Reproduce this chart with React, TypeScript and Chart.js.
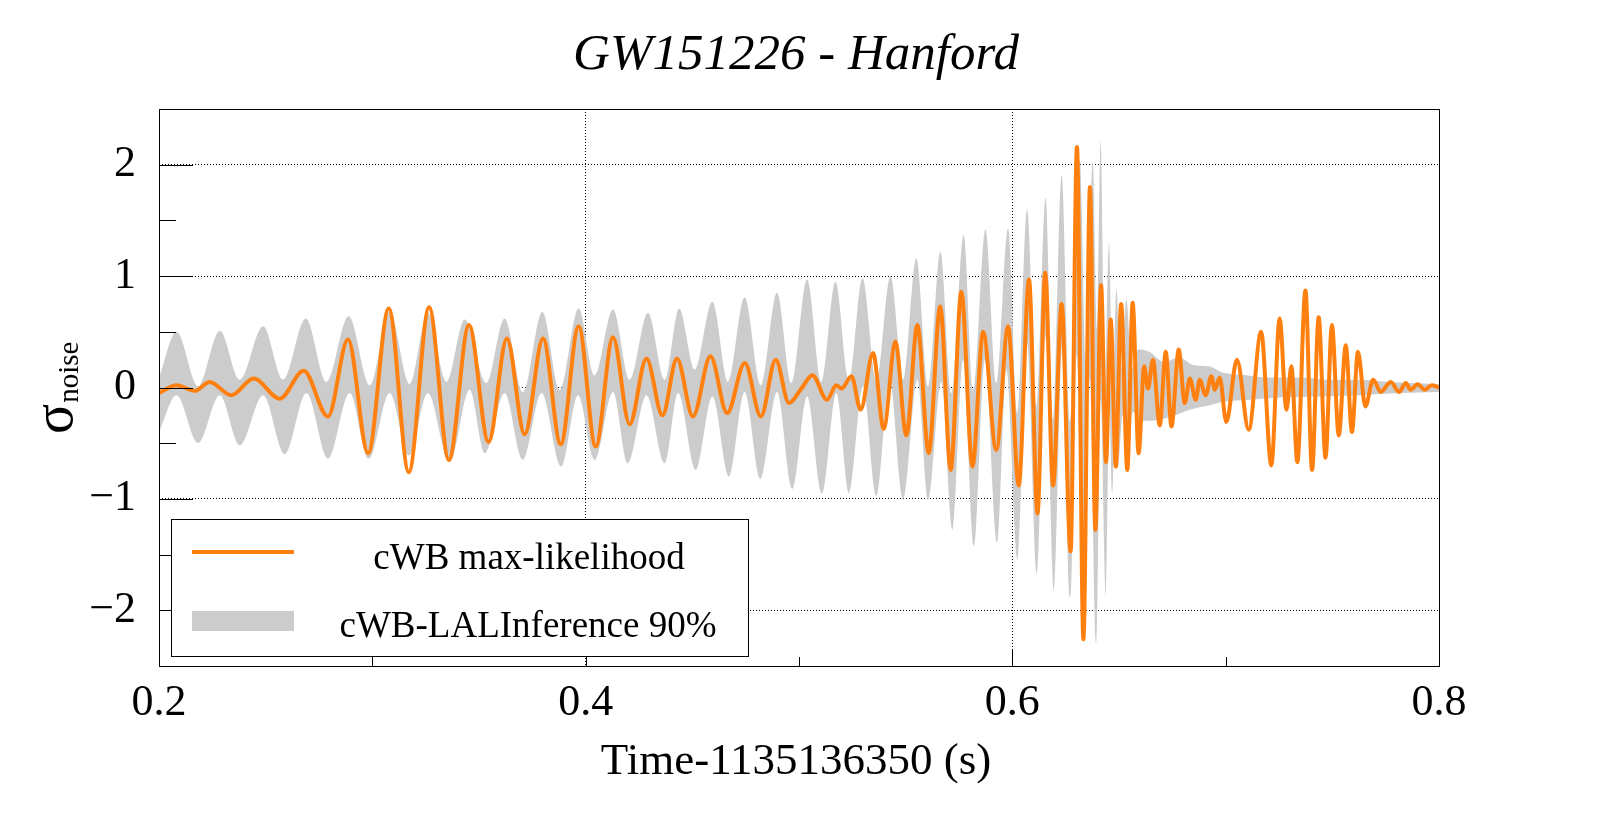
import React, { useEffect, useRef } from "react";
import { Chart, registerables } from "chart.js";

Chart.register(...registerables);

const TITLE = "GW151226 - Hanford";
const X_TITLE = "Time-1135136350 (s)";
const Y_TITLE_MAIN = "σ";
const Y_TITLE_SUB = "noise";
const LEGEND_LABELS = ["cWB max-likelihood", "cWB-LALInference 90%"];

const X_TICKS = [0.2, 0.4, 0.6, 0.8];
const X_MINOR = [0.3, 0.5, 0.7];
const Y_TICKS = [-2, -1, 0, 1, 2];
const Y_MINOR = [-1.5, -0.5, 0.5, 1.5];

// cWB max-likelihood waveform (turning points)
const ML_T = [
  0.2, 0.2082, 0.2167, 0.2238, 0.2339, 0.2444, 0.2566, 0.2678, 0.2792, 0.2886,
  0.298, 0.3077, 0.3171, 0.3266, 0.3359, 0.3453, 0.3545, 0.3631, 0.3714, 0.38,
  0.3883, 0.3967, 0.4047, 0.4128, 0.4206, 0.4285, 0.436, 0.4428, 0.4503, 0.4585,
  0.4663, 0.4746, 0.4821, 0.4891, 0.4953, 0.5011, 0.5063, 0.5131, 0.5175, 0.5199,
  0.5246, 0.5289, 0.5347, 0.5397, 0.5452, 0.5503, 0.5555, 0.5608, 0.5662, 0.5711,
  0.5761, 0.5813, 0.5863, 0.5925, 0.598, 0.603, 0.6078, 0.6118, 0.6154, 0.6191,
  0.6231, 0.6273, 0.6303, 0.6333, 0.6364, 0.6389, 0.6416, 0.6439, 0.6461, 0.6485,
  0.651, 0.6539, 0.6564, 0.6592, 0.6618, 0.6636, 0.6659, 0.6691, 0.6719, 0.6746,
  0.678, 0.6808, 0.6832, 0.686, 0.6878, 0.6906, 0.6933, 0.6949, 0.6972, 0.7003,
  0.7053, 0.7108, 0.7166, 0.7214, 0.7253, 0.7285, 0.7308, 0.7336, 0.7374, 0.7405,
  0.7436, 0.7468, 0.7498, 0.753, 0.7563, 0.7592, 0.762, 0.7655, 0.7691, 0.7727,
  0.7774, 0.7813, 0.7844, 0.7867, 0.79, 0.7933, 0.7966, 0.8,
];
const ML_V = [
  -0.05, 0.02, -0.03, 0.05, -0.07, 0.08, -0.1, 0.15, -0.26, 0.43,
  -0.59, 0.71, -0.76, 0.72, -0.65, 0.56, -0.49, 0.44, -0.42, 0.44,
  -0.51, 0.55, -0.53, 0.45, -0.33, 0.26, -0.25, 0.26, -0.26, 0.28,
  -0.23, 0.22, -0.26, 0.25, -0.14, -0.01, 0.11, -0.11, 0.02, -0.01,
  0.1, -0.2, 0.31, -0.37, 0.41, -0.43, 0.56, -0.59, 0.73, -0.74,
  0.86, -0.71, 0.5, -0.56, 0.55, -0.88, 0.97, -1.13, 1.03, -0.88,
  0.75, -1.47, 2.16, -2.26, 1.8, -1.28, 0.92, -0.67, 0.61, -0.71,
  0.75, -0.74, 0.76, -0.59, 0.19, -0.01, 0.25, -0.34, 0.32, -0.35,
  0.34, -0.14, 0.08, -0.11, 0.07, -0.07, 0.1, -0.02, 0.09, -0.31,
  0.25, -0.38, 0.5, -0.7, 0.62, -0.2, 0.19, -0.67, 0.87, -0.74,
  0.63, -0.63, 0.56, -0.43, 0.38, -0.4, 0.32, -0.17, 0.07, -0.04,
  0.05, -0.04, 0.04, -0.02, 0.03, -0.02, 0.02, 0.0,
];

// cWB-LALInference 90% band: upper edge
const UP_T = [
  0.2, 0.2082, 0.2183, 0.2285, 0.2378, 0.2488, 0.2581, 0.2688, 0.2785, 0.2889,
  0.2988, 0.3081, 0.3175, 0.326, 0.3347, 0.3433, 0.3535, 0.362, 0.3706, 0.3797,
  0.3878, 0.3967, 0.4042, 0.4128, 0.4206, 0.4292, 0.4371, 0.4438, 0.4511, 0.4594,
  0.4667, 0.4745, 0.4821, 0.4897, 0.4964, 0.5038, 0.5105, 0.5171, 0.5234, 0.5297,
  0.5363, 0.5429, 0.5488, 0.555, 0.5605, 0.5663, 0.5714, 0.5772, 0.5816, 0.5874,
  0.5925, 0.598, 0.6024, 0.6069, 0.6113, 0.6156, 0.6191, 0.6231, 0.6272, 0.6316,
  0.6345, 0.6377, 0.6396, 0.6414, 0.6434, 0.6453, 0.647, 0.6488, 0.6508, 0.6535,
  0.656, 0.659, 0.6641, 0.6711, 0.6781, 0.6852, 0.6922, 0.6978, 0.7095, 0.7203,
  0.7344, 0.7484, 0.7625, 0.7766, 0.7859, 0.8,
];
const UP_V = [
  0.09, 0.5, 0.01, 0.51, 0.07, 0.55, 0.07, 0.62, 0.05, 0.64,
  0.02, 0.68, 0.03, 0.67, 0.05, 0.61, 0.04, 0.62, -0.04, 0.68,
  -0.02, 0.71, 0.11, 0.7, 0.07, 0.67, 0.07, 0.71, 0.16, 0.77,
  0.05, 0.81, 0.02, 0.85, 0.04, 0.97, 0.05, 0.95, 0.07, 0.98,
  0.05, 1.0, 0.07, 1.16, 0.01, 1.22, -0.05, 1.37, -0.02, 1.42,
  0.04, 1.43, -0.23, 1.6, -0.17, 1.7, -0.29, 1.91, -0.3, 2.05,
  0.2, 2.03, 0.52, 2.21, -0.02, 1.3, -0.02, 0.88, 0.16, 0.79,
  0.16, 0.34, 0.32, 0.23, 0.27, 0.2, 0.19, 0.14, 0.11, 0.09,
  0.09, 0.07, 0.07, 0.05, 0.04, 0.03,
];

// cWB-LALInference 90% band: lower edge
const LO_T = [
  0.2, 0.2082, 0.2183, 0.2285, 0.2378, 0.2488, 0.2589, 0.2691, 0.2792, 0.2894,
  0.2983, 0.3081, 0.3172, 0.326, 0.3363, 0.3456, 0.3527, 0.362, 0.3706, 0.3793,
  0.3886, 0.3964, 0.4042, 0.4128, 0.4198, 0.4285, 0.4371, 0.4433, 0.4516, 0.4594,
  0.4672, 0.4745, 0.4819, 0.4897, 0.4969, 0.5038, 0.5108, 0.5175, 0.5234, 0.53,
  0.5363, 0.5425, 0.5488, 0.5555, 0.5605, 0.5667, 0.5719, 0.5769, 0.582, 0.5871,
  0.5928, 0.5972, 0.6024, 0.6069, 0.6114, 0.6156, 0.6195, 0.6235, 0.6272, 0.6302,
  0.6331, 0.6363, 0.6394, 0.6414, 0.6438, 0.6455, 0.6469, 0.6482, 0.6495, 0.6517,
  0.6542, 0.6564, 0.6613, 0.6692, 0.6762, 0.6832, 0.6926, 0.6983, 0.7114, 0.7255,
  0.7443, 0.763, 0.7818, 0.8,
];
const LO_V = [
  -0.4, -0.07, -0.5, -0.07, -0.52, -0.07, -0.6, -0.05, -0.64, -0.05,
  -0.64, -0.05, -0.61, -0.05, -0.67, -0.02, -0.59, -0.05, -0.65, -0.05,
  -0.71, -0.07, -0.65, -0.04, -0.68, -0.07, -0.68, -0.05, -0.74, -0.08,
  -0.8, -0.04, -0.82, -0.04, -0.91, -0.08, -0.95, -0.05, -0.95, 0.01,
  -0.97, 0.07, -1.0, 0.07, -1.01, 0.05, -1.28, 0.25, -1.42, 0.25,
  -1.39, 0.16, -1.55, 0.4, -1.67, 0.46, -1.82, 0.4, -1.88, 0.3,
  -2.27, 0.07, -2.29, -0.11, -1.88, -0.2, -0.94, -0.25, -0.71, -0.25,
  -0.52, -0.22, -0.3, -0.29, -0.25, -0.2, -0.16, -0.13, -0.11, -0.09,
  -0.08, -0.07, -0.05, -0.04,
];

const ORANGE = "#ff800e";
const GREY = "#cccccc";
const FONT = "'Liberation Serif', 'Times New Roman', serif";

const toPts = (t: number[], v: number[]) => t.map((x, i) => ({ x, y: v[i] }));

const decorPlugin = {
  id: "decor",
  afterDraw(chart: any) {
    const { ctx, chartArea: a, scales } = chart;
    const xs = scales.x;
    const ys = scales.y;
    ctx.save();
    ctx.setLineDash([]);
    ctx.strokeStyle = "#000";
    ctx.lineWidth = 1;
    // tick marks
    ctx.beginPath();
    Y_TICKS.forEach((v) => {
      const p = Math.round(ys.getPixelForValue(v)) + 0.5;
      ctx.moveTo(a.left, p);
      ctx.lineTo(a.left + 34, p);
    });
    Y_MINOR.forEach((v) => {
      const p = Math.round(ys.getPixelForValue(v)) + 0.5;
      ctx.moveTo(a.left, p);
      ctx.lineTo(a.left + 17, p);
    });
    X_TICKS.forEach((v) => {
      const p = Math.round(xs.getPixelForValue(v)) + 0.5;
      ctx.moveTo(p, a.bottom);
      ctx.lineTo(p, a.bottom - 17);
    });
    X_MINOR.forEach((v) => {
      const p = Math.round(xs.getPixelForValue(v)) + 0.5;
      ctx.moveTo(p, a.bottom);
      ctx.lineTo(p, a.bottom - 9);
    });
    ctx.stroke();
    // frame
    ctx.strokeRect(a.left + 0.5, a.top + 0.5, a.right - a.left, a.bottom - a.top);

    // legend
    const lx = 171, ly = 519, lw = 577, lh = 137;
    ctx.fillStyle = "#fff";
    ctx.fillRect(lx, ly, lw, lh);
    ctx.strokeStyle = "#000";
    ctx.lineWidth = 1;
    ctx.strokeRect(lx + 0.5, ly + 0.5, lw, lh);
    ctx.strokeStyle = ORANGE;
    ctx.lineWidth = 4;
    ctx.beginPath();
    ctx.moveTo(192, 552);
    ctx.lineTo(294, 552);
    ctx.stroke();
    ctx.fillStyle = GREY;
    ctx.fillRect(192, 611, 102, 20);
    ctx.fillStyle = "#000";
    ctx.font = `37px ${FONT}`;
    ctx.textAlign = "center";
    ctx.textBaseline = "middle";
    ctx.fillText(LEGEND_LABELS[0], 529, 559);
    ctx.fillText(LEGEND_LABELS[1], 528, 627);

    // title
    ctx.textBaseline = "alphabetic";
    ctx.font = `italic 51px ${FONT}`;
    ctx.fillText(TITLE, 796, 69);
    // x title
    ctx.font = `45px ${FONT}`;
    ctx.fillText(X_TITLE, 796, 774);
    // y title
    ctx.save();
    ctx.translate(72, 434);
    ctx.rotate(-Math.PI / 2);
    ctx.textAlign = "left";
    ctx.font = `56px ${FONT}`;
    ctx.fillText(Y_TITLE_MAIN, 0, 0);
    const w = ctx.measureText(Y_TITLE_MAIN).width;
    ctx.font = `29px ${FONT}`;
    ctx.fillText(Y_TITLE_SUB, w + 1, 6);
    ctx.restore();
    ctx.restore();
  },
};

export default function App() {
  const ref = useRef<HTMLCanvasElement | null>(null);
  useEffect(() => {
    if (!ref.current) return;
    const chart = new Chart(ref.current, {
      type: "line",
      data: {
        datasets: [
          {
            label: LEGEND_LABELS[0],
            data: toPts(ML_T, ML_V),
            borderColor: ORANGE,
            borderWidth: 4,
            pointRadius: 0,
            cubicInterpolationMode: "monotone",
            fill: false,
            order: 0,
          },
          {
            label: LEGEND_LABELS[1],
            data: toPts(UP_T, UP_V),
            borderColor: "rgba(0,0,0,0)",
            borderWidth: 0,
            backgroundColor: GREY,
            pointRadius: 0,
            cubicInterpolationMode: "monotone",
            fill: "+1",
            order: 1,
          },
          {
            label: "lower",
            data: toPts(LO_T, LO_V),
            borderColor: "rgba(0,0,0,0)",
            borderWidth: 0,
            pointRadius: 0,
            cubicInterpolationMode: "monotone",
            fill: false,
            order: 2,
          },
        ],
      },
      options: {
        responsive: false,
        animation: false,
        devicePixelRatio: 1,
        layout: { padding: { left: 0, right: 160, top: 109, bottom: 0 } },
        plugins: {
          legend: { display: false },
          tooltip: { enabled: false },
          title: { display: false },
        },
        scales: {
          x: {
            type: "linear",
            min: 0.2,
            max: 0.8,
            afterBuildTicks: (s: any) => {
              s.ticks = X_TICKS.map((value) => ({ value }));
            },
            afterFit: (s: any) => {
              s.height = 147;
            },
            ticks: {
              color: "#000",
              font: { family: FONT, size: 44 },
              padding: 11,
              maxRotation: 0,
              callback: (v: any) => Number(v).toFixed(1),
            },
            grid: {
              drawTicks: false,
              lineWidth: 1,
              color: (c: any) =>
                c.tick && (c.tick.value === 0.2 || c.tick.value === 0.8) ? "rgba(0,0,0,0)" : "#000",
            },
            border: { display: false, dash: [1, 2] },
          },
          y: {
            type: "linear",
            min: -2.5,
            max: 2.5,
            afterBuildTicks: (s: any) => {
              s.ticks = Y_TICKS.map((value) => ({ value }));
            },
            afterFit: (s: any) => {
              s.width = 159;
            },
            ticks: {
              color: "#000",
              font: { family: FONT, size: 44 },
              padding: 23,
              callback: (v: any) => (Number(v) < 0 ? "\u2212" + Math.abs(Number(v)) : String(v)),
            },
            grid: { drawTicks: false, lineWidth: 1, color: "#000" },
            border: { display: false, dash: [1, 2] },
          },
        },
      },
      plugins: [decorPlugin],
    } as any);
    return () => chart.destroy();
  }, []);
  return (
    <div style={{ position: "fixed", left: 0, top: 0, width: 1599, height: 813, background: "#fff" }}>
      <canvas ref={ref} width={1599} height={813} style={{ display: "block", width: 1599, height: 813 }} />
    </div>
  );
}
